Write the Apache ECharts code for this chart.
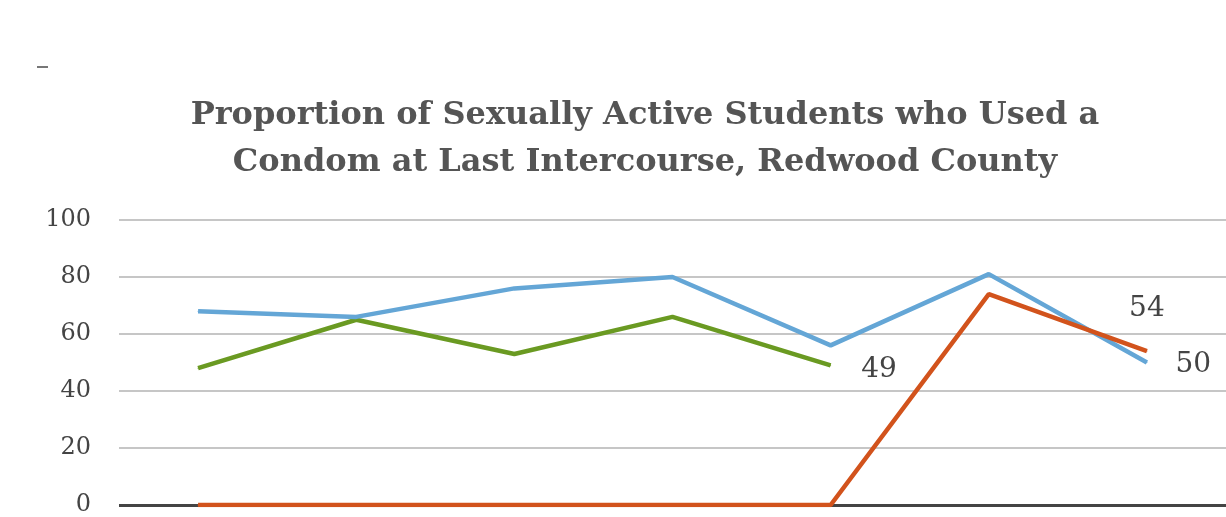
<!DOCTYPE html>
<html><head><meta charset="utf-8">
<script src="https://cdn.jsdelivr.net/npm/echarts@6/dist/echarts.min.js"></script>
<style>html,body{margin:0;padding:0;background:#fff}#c{width:1226px;height:517px}</style>
</head><body><div id="c"></div>
<script>
const categories = ['1','2','3','4','5','6','7'];
const blueValues = [68, 66, 76, 80, 56, 81, 50];
const greenValues = [48, 65, 53, 66, 49, null, null];
const orangeValues = [0, 0, 0, 0, 0, 74, 54];
const yTicks = [0, 20, 40, 60, 80, 100];
const titleText = 'Proportion of Sexually Active Students who Used a\nCondom at Last Intercourse, Redwood County';

const chart = echarts.init(document.getElementById('c'));
const labelFont = {fontFamily:'DejaVu Serif', fontSize:28, color:'#444'};
const sym = {symbol:'circle', symbolSize:1, showSymbol:true};
chart.setOption({
  animation:false,
  title:{text:titleText,left:640,textAlign:'center',top:87,
    textStyle:{fontFamily:'DejaVu Serif',fontWeight:'bold',fontSize:32,color:'#555',lineHeight:47}},
  graphic:[{type:'rect',shape:{x:37,y:66,width:11,height:2},style:{fill:'#777'}}],
  grid:{left:119,right:0,top:220,bottom:12},
  xAxis:{type:'category',data:categories,boundaryGap:true,
    axisLine:{show:false},axisTick:{show:false},axisLabel:{show:false}},
  yAxis:{type:'value',min:yTicks[0],max:yTicks[yTicks.length-1],interval:20,
    axisLine:{show:false},axisTick:{show:false},
    axisLabel:{fontFamily:'DejaVu Serif',fontSize:24,color:'#444',margin:28},
    splitLine:{lineStyle:{color:'#c6c6c6',width:2}}},
  series:[
    {type:'line',data:blueValues,...sym,itemStyle:{color:'#64a6d6'},lineStyle:{color:'#64a6d6',width:4.5},z:3,
      label:{show:true,position:'right',distance:28,offset:[0,2],formatter:p=>p.dataIndex===6?String(p.value):'',...labelFont}},
    {type:'line',data:greenValues,...sym,itemStyle:{color:'#6a9a22'},lineStyle:{color:'#6a9a22',width:4.5},z:2,
      label:{show:true,position:'right',distance:30,offset:[0,4],formatter:p=>p.dataIndex===4?String(p.value):'',...labelFont}},
    {type:'line',data:orangeValues,...sym,itemStyle:{color:'#d2531c'},lineStyle:{color:'#d2531c',width:4.5},z:4,
      label:{show:true,position:'top',distance:28,formatter:p=>p.dataIndex===6?String(p.value):'',...labelFont},
      markLine:{silent:true,symbol:'none',label:{show:false},
        lineStyle:{color:'#444',width:3,type:'solid'},data:[{yAxis:0}],z:1}}
  ]
});
</script></body></html>
